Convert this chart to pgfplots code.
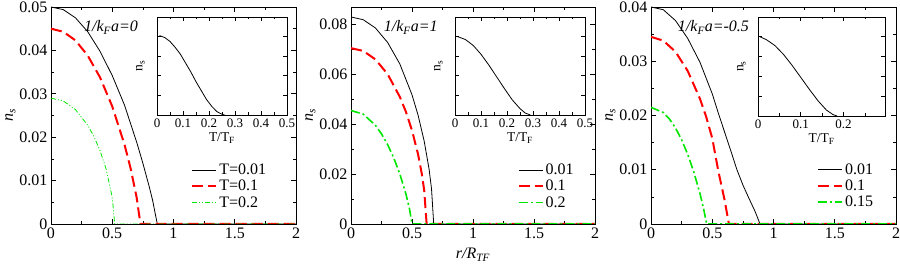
\documentclass[border=0pt]{standalone}
\usepackage{pgfplots}
\pgfplotsset{compat=1.18}
\usepackage{fontspec}
\setmainfont{Liberation Serif}
\definecolor{pred}{RGB}{255,0,0}
\definecolor{pgreen}{RGB}{0,230,0}
\pgfplotsset{
  mainax/.style={
    scale only axis, width=245pt, height=217pt,
    anchor=south west,
    xmin=0, xmax=2,
    xtick={0,0.5,1,1.5,2}, minor xtick={0.25,0.75,1.25,1.75},
    scaled y ticks=false, scaled x ticks=false,
    /pgf/number format/assume math mode=true,
    /pgf/number format/fixed, /pgf/number format/precision=3,
    tick align=inside, major tick length=5pt, minor tick length=3pt,
    tick style={black, line width=0.6pt},
    axis line style={line width=0.9pt},
    ticklabel style={font=\fontsize{16}{17}\selectfont},
    label style={font=\fontsize{16}{17}\selectfont},
    ylabel={\textit{n}\textsubscript{\textit{s}}},
    ylabel style={yshift=-3pt},
    xlabel style={yshift=-3pt},
    legend style={draw=none, fill=none, font=\fontsize{16}{17}\selectfont, row sep=0pt},
    legend cell align=left,
    legend image code/.code={\draw[##1] (0pt,0pt) -- (24pt,0pt);},
  },
  insax/.style={
    scale only axis, anchor=south west,
    xmin=0, ymin=0, ymax=1,
    ytick={0.2,0.4,0.6,0.8}, yticklabels={},
    scaled x ticks=false,
    /pgf/number format/assume math mode=true,
    /pgf/number format/fixed, /pgf/number format/precision=2,
    tick align=inside, major tick length=4pt, minor tick length=2.5pt,
    tick style={black, line width=0.6pt},
    axis line style={line width=0.9pt},
    ticklabel style={font=\fontsize{13}{14}\selectfont},
    label style={font=\fontsize{13.5}{14}\selectfont},
    ylabel={n\textsubscript{s}}, xlabel={T/T\textsubscript{F}},
    xlabel style={yshift=2pt}, ylabel style={yshift=2pt},
    axis background/.style={fill=white},
  },
  blk/.style={black, line width=0.8pt},
  rdd/.style={pred, line width=2pt, dash pattern=on 11pt off 5pt},
  g1/.style={pgreen, line width=0.8pt, dash pattern=on 5pt off 2pt on 1pt off 2pt on 1pt off 2pt},
  g2/.style={pgreen, line width=1.6pt, dash pattern=on 9pt off 3pt on 2pt off 3pt},
}
\begin{document}
\begin{tikzpicture}
\useasboundingbox (0,0) rectangle (900pt,270pt);
% ---------------- Panel 1 ----------------
\begin{axis}[mainax, at={(51pt,46pt)}, ymin=0, ymax=0.05,
  ytick={0,0.01,0.02,0.03,0.04,0.05}, minor ytick={0.005,0.015,0.025,0.035,0.045},
  legend style={at={(0.56,0.295)}, anchor=north west}]
\addplot[blk] coordinates {(0,0.05) (0.1,0.0494) (0.2,0.0475) (0.3,0.0443) (0.4,0.0398) (0.5,0.0342) (0.6,0.0274) (0.7,0.0188) (0.75,0.014) (0.8,0.0088) (0.83,0.0054) (0.85,0.0025) (0.868,0) (2,0)};
\addlegendentry{T=0.01}
\addplot[rdd] coordinates {(0,0.045) (0.1,0.0443) (0.2,0.0423) (0.3,0.0388) (0.4,0.0338) (0.5,0.0271) (0.6,0.0183) (0.65,0.0128) (0.7,0.006) (0.73,0) (2,0)};
\addlegendentry{T=0.1}
\addplot[g1] coordinates {(0,0.029) (0.1,0.02835) (0.2,0.02635) (0.3,0.02275) (0.35,0.0202) (0.4,0.01694) (0.45,0.01266) (0.5,0.00615) (0.52,0) (2,0)};
\addlegendentry{T=0.2}
\node[font=\fontsize{16}{17}\selectfont\itshape] at (rel axis cs:0.245,0.905) {1/k\textsubscript{F}a=0};
\end{axis}
\begin{axis}[insax, at={(157pt,155pt)}, width=130pt, height=98pt, xmax=0.5,
  xtick={0,0.1,0.2,0.3,0.4,0.5}, minor xtick={0.05,0.15,0.25,0.35,0.45}]
\addplot[blk] coordinates {(0.01,0.81) (0.03,0.79) (0.05,0.75) (0.07,0.69) (0.09,0.62) (0.11,0.53) (0.13,0.44) (0.15,0.34) (0.17,0.25) (0.19,0.16) (0.21,0.09) (0.23,0.035) (0.25,0.007) (0.26,0)};
\end{axis}
% ---------------- Panel 2 ----------------
\begin{axis}[mainax, at={(351pt,46pt)}, width=244pt, ymin=0, ymax=0.087,
  ytick={0,0.02,0.04,0.06,0.08}, minor ytick={0.01,0.03,0.05,0.07},
  xlabel={\textit{r/R\textsubscript{TF}}},
  legend style={at={(0.67,0.295)}, anchor=north west}]
\addplot[blk] coordinates {(0,0.083) (0.1,0.0819) (0.2,0.0786) (0.3,0.0728) (0.4,0.0642) (0.5,0.0518) (0.55,0.0436) (0.6,0.0332) (0.64,0.022) (0.66,0.01415) (0.678,0) (2,0)};
\addlegendentry{0.01}
\addplot[rdd] coordinates {(0,0.0705) (0.1,0.0694) (0.2,0.066) (0.3,0.0601) (0.4,0.051) (0.45,0.045) (0.5,0.0375) (0.55,0.0279) (0.58,0.0202) (0.6,0.0135) (0.62,0) (2,0)};
\addlegendentry{0.1}
\addplot[g2] coordinates {(0,0.0455) (0.1,0.04405) (0.2,0.03958) (0.25,0.03614) (0.3,0.03184) (0.35,0.02655) (0.4,0.0201) (0.45,0.01205) (0.48,0.00594) (0.5,0) (2,0)};
\addlegendentry{0.2}
\node[font=\fontsize{16}{17}\selectfont\itshape] at (rel axis cs:0.245,0.905) {1/k\textsubscript{F}a=1};
\end{axis}
\begin{axis}[insax, at={(455pt,155pt)}, width=130pt, height=98pt, xmax=0.5,
  xtick={0,0.1,0.2,0.3,0.4,0.5}, minor xtick={0.05,0.15,0.25,0.35,0.45}]
\addplot[blk] coordinates {(0.01,0.80) (0.04,0.77) (0.07,0.71) (0.1,0.62) (0.13,0.51) (0.16,0.39) (0.19,0.27) (0.22,0.155) (0.25,0.065) (0.27,0.02) (0.29,0)};
\end{axis}
% ---------------- Panel 3 ----------------
\begin{axis}[mainax, at={(651pt,46pt)}, ymin=0, ymax=0.04,
  ytick={0,0.01,0.02,0.03,0.04}, minor ytick={0.005,0.015,0.025,0.035},
  legend style={at={(0.665,0.298)}, anchor=north west}]
\addplot[blk] coordinates {(0,0.04) (0.1,0.0395) (0.2,0.0375) (0.3,0.0342) (0.4,0.0298) (0.5,0.0240) (0.55,0.0204) (0.6,0.0170) (0.65,0.0136) (0.7,0.0101) (0.75,0.0072) (0.8,0.0047) (0.85,0.0023) (0.89,0) (2,0)};
\addlegendentry{0.01}
\addplot[rdd] coordinates {(0,0.0345) (0.1,0.0338) (0.2,0.03175) (0.3,0.0282) (0.4,0.02306) (0.45,0.0198) (0.5,0.0158) (0.55,0.0097) (0.6,0.0045) (0.636,0) (2,0)};
\addlegendentry{0.1}
\addplot[g2] coordinates {(0,0.0215) (0.1,0.02056) (0.15,0.01937) (0.2,0.01771) (0.25,0.01553) (0.3,0.01283) (0.35,0.00954) (0.4,0.00559) (0.43,0.00277) (0.454,0) (2,0)};
\addlegendentry{0.15}
\node[font=\fontsize{16}{17}\selectfont\itshape] at (rel axis cs:0.255,0.905) {1/k\textsubscript{F}a=-0.5};
\end{axis}
\begin{axis}[insax, at={(758pt,154pt)}, width=127pt, height=99pt, xmax=0.297,
  xtick={0,0.1,0.2}, minor xtick={0.05,0.15,0.25}]
\addplot[blk] coordinates {(0.005,0.80) (0.02,0.77) (0.04,0.71) (0.06,0.62) (0.08,0.51) (0.1,0.39) (0.12,0.27) (0.14,0.155) (0.16,0.06) (0.175,0.015) (0.185,0)};
\end{axis}
\end{tikzpicture}
\end{document}
